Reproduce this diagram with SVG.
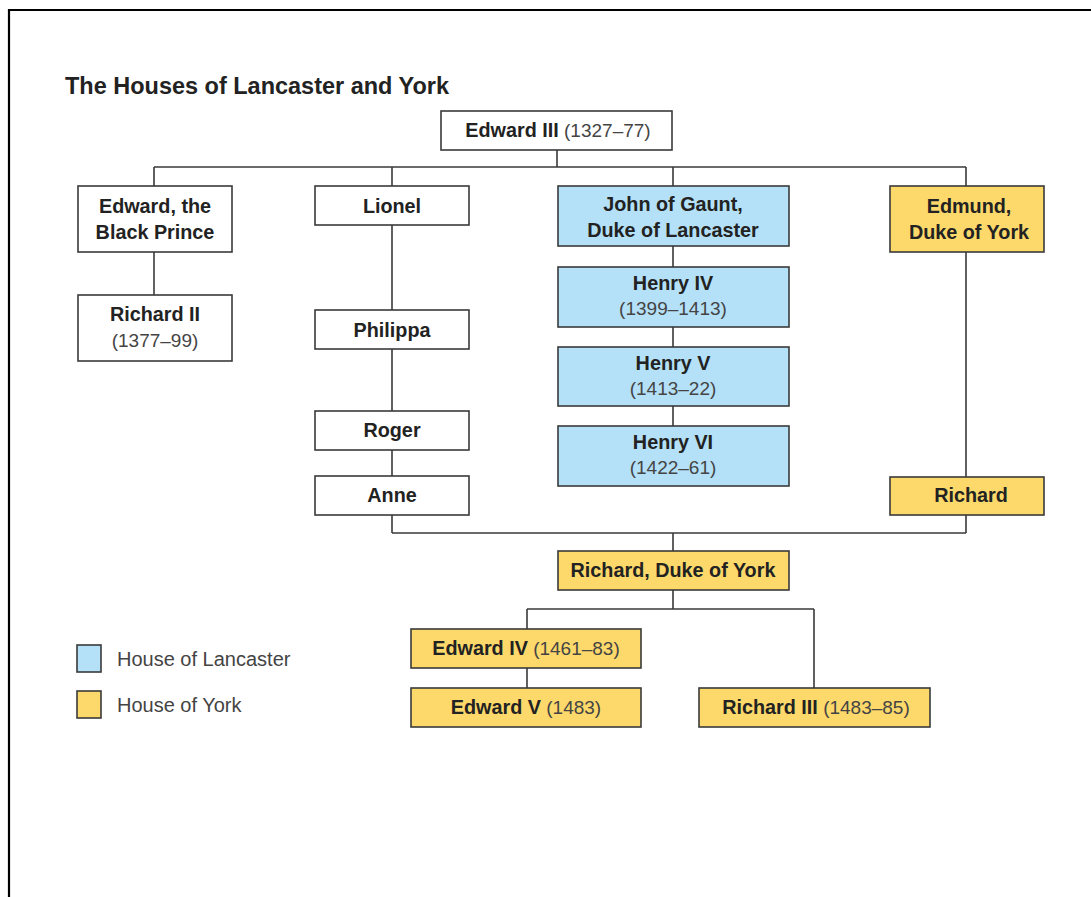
<svg xmlns="http://www.w3.org/2000/svg" width="1091" height="897" viewBox="0 0 1091 897">
<style>
.box{stroke:#3a3a3a;stroke-width:1.6}
.w{fill:#ffffff}
.l{fill:#b4e1f8}
.y{fill:#fdd96b}
.b{font-family:"Liberation Sans",Arial,sans-serif;font-weight:bold;font-size:19.8px;fill:#222}
.r{font-family:"Liberation Sans",Arial,sans-serif;font-weight:normal;font-size:19px;fill:#444}
.t{font-family:"Liberation Sans",Arial,sans-serif;font-weight:bold;font-size:23px;fill:#222}
.lg{font-family:"Liberation Sans",Arial,sans-serif;font-size:20px;fill:#444}
.c{fill:none;stroke:#3a3a3a;stroke-width:1.6}
</style>
<rect x="0" y="0" width="1091" height="897" fill="#fff"/>
<path d="M9 897 V10 H1091" fill="none" stroke="#000" stroke-width="2.2"/>
<text class="t" x="65" y="94" textLength="384" lengthAdjust="spacingAndGlyphs">The Houses of Lancaster and York</text>

<g id="connectors">
<path class="c" d="M557 150 V167 M154 167 H966 M154 167 V186 M392 167 V186 M673 167 V186 M966 167 V186"/>
<path class="c" d="M154 252 V295"/>
<path class="c" d="M392 225 V310 M392 349 V411 M392 450 V476 M392 515 V533"/>
<path class="c" d="M673 246 V267 M673 327 V347 M673 406 V426"/>
<path class="c" d="M966 252 V477 M966 515 V533 M392 533 H966 M673 533 V551"/>
<path class="c" d="M673 590 V609 M527 609 H814 M527 609 V629 M814 609 V688 M527 668 V688"/>
</g>

<g id="edward3"><rect class="box w" x="441" y="111" width="231" height="39"/><text x="558" y="137" text-anchor="middle"><tspan class="b">Edward III</tspan><tspan class="r"> (1327–77)</tspan></text></g>
<g id="blackprince"><rect class="box w" x="78" y="186" width="154" height="66"/><text class="b" x="155" y="213" text-anchor="middle">Edward, the</text><text class="b" x="155" y="239" text-anchor="middle">Black Prince</text></g>
<g id="richard2"><rect class="box w" x="78" y="295" width="154" height="66"/><text class="b" x="155" y="321" text-anchor="middle">Richard II</text><text class="r" x="155" y="347" text-anchor="middle">(1377–99)</text></g>
<g id="lionel"><rect class="box w" x="315" y="186" width="154" height="39"/><text class="b" x="392" y="213" text-anchor="middle">Lionel</text></g>
<g id="philippa"><rect class="box w" x="315" y="310" width="154" height="39"/><text class="b" x="392" y="337" text-anchor="middle">Philippa</text></g>
<g id="roger"><rect class="box w" x="315" y="411" width="154" height="39"/><text class="b" x="392" y="437" text-anchor="middle">Roger</text></g>
<g id="anne"><rect class="box w" x="315" y="476" width="154" height="39"/><text class="b" x="392" y="502" text-anchor="middle">Anne</text></g>
<g id="gaunt"><rect class="box l" x="558" y="186" width="231" height="60"/><text class="b" x="673" y="211" text-anchor="middle">John of Gaunt,</text><text class="b" x="673" y="237" text-anchor="middle">Duke of Lancaster</text></g>
<g id="henry4"><rect class="box l" x="558" y="267" width="231" height="60"/><text class="b" x="673" y="290" text-anchor="middle">Henry IV</text><text class="r" x="673" y="315" text-anchor="middle">(1399–1413)</text></g>
<g id="henry5"><rect class="box l" x="558" y="347" width="231" height="59"/><text class="b" x="673" y="370" text-anchor="middle">Henry V</text><text class="r" x="673" y="395" text-anchor="middle">(1413–22)</text></g>
<g id="henry6"><rect class="box l" x="558" y="426" width="231" height="60"/><text class="b" x="673" y="449" text-anchor="middle">Henry VI</text><text class="r" x="673" y="474" text-anchor="middle">(1422–61)</text></g>
<g id="edmund"><rect class="box y" x="890" y="186" width="154" height="66"/><text class="b" x="969" y="213" text-anchor="middle">Edmund,</text><text class="b" x="969" y="239" text-anchor="middle">Duke of York</text></g>
<g id="richard"><rect class="box y" x="890" y="477" width="154" height="38"/><text class="b" x="971" y="502" text-anchor="middle">Richard</text></g>
<g id="richardyork"><rect class="box y" x="558" y="551" width="231" height="39"/><text class="b" x="673" y="577" text-anchor="middle">Richard, Duke of York</text></g>
<g id="edward4"><rect class="box y" x="411" y="629" width="230" height="39"/><text x="526" y="655" text-anchor="middle"><tspan class="b">Edward IV</tspan><tspan class="r"> (1461–83)</tspan></text></g>
<g id="edward5"><rect class="box y" x="411" y="688" width="230" height="39"/><text x="526" y="714" text-anchor="middle"><tspan class="b">Edward V</tspan><tspan class="r"> (1483)</tspan></text></g>
<g id="richard3"><rect class="box y" x="699" y="688" width="231" height="39"/><text x="816" y="714" text-anchor="middle"><tspan class="b">Richard III</tspan><tspan class="r"> (1483–85)</tspan></text></g>

<g id="legend">
<rect class="box l" x="77" y="645" width="24" height="27"/><text class="lg" x="117" y="666">House of Lancaster</text>
<rect class="box y" x="77" y="691" width="24" height="27"/><text class="lg" x="117" y="712">House of York</text>
</g>
</svg>
